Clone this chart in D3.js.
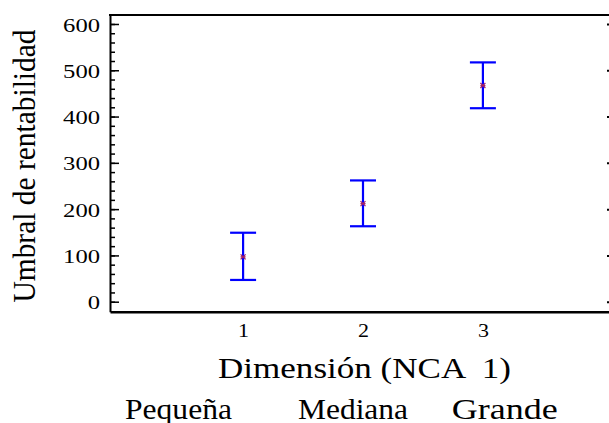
<!DOCTYPE html>
<html>
<head>
<meta charset="utf-8">
<script src="https://cdn.jsdelivr.net/npm/d3@7"></script>
<style>
  body { margin: 0; background: #fff; }
  svg { display: block; }
</style>
</head>
<body>
<div id="chart"></div>
<script>
// Consts {{{
const width = 609;
const height = 423;
const plot = {left: 110, right: 610, top: 15, bottom: 311.7};

// data
const groups = [1, 2, 3];
const means = [97, 212, 467];
const lower = [47, 163, 418];
const upper = [149, 262, 517];
const y_ticks = [0, 100, 200, 300, 400, 500, 600];
const size_labels = ["Pequeña", "Mediana", "Grande"];

const bar_color = "#0000ff";
const mean_color = "#a0206a";
const text_color = "#000";
//}}}

const svg = d3.select("#chart").append("svg")
    .attr("width", width)
    .attr("height", height);

// pick_font() {{{
// finds a Times-like serif that is really installed, by measuring
function pick_font() {
    const probe = svg.append("text").attr("font-size", 40).text("Umbral de rentabilidad 0123");
    probe.attr("font-family", "monospace");
    const base = probe.node().getComputedTextLength();
    const wanted = ["Liberation Serif", "Times New Roman", "Tinos", "Nimbus Roman", "FreeSerif", "Times"];
    let found = null;
    wanted.forEach(f => {
        if (found) return;
        probe.attr("font-family", "'" + f + "', monospace");
        if (Math.abs(probe.node().getComputedTextLength() - base) > 0.5) found = f;
    });
    probe.remove();
    if (found) return {family: "'" + found + "', serif", k: 1};
    // DejaVu Serif has taller capitals than Times
    return {family: "'DejaVu Serif', serif", k: 0.9};
}
//}}}
const font = pick_font();
const fs = s => s * font.k;

const x = d3.scaleLinear()
    .domain([-0.11, 4.06])
    .range([plot.left, plot.right]);

const y = d3.scaleLinear()
    .domain([-21.6, 619.4])
    .range([plot.bottom, plot.top]);

// Axes {{{
// minor ticks on the left, every 20
svg.append("g")
    .attr("transform", "translate(" + plot.left + ",0)")
    .call(d3.axisLeft(y).tickValues(d3.range(0, 601, 20)).tickSize(-5).tickFormat(""))
    .call(g => g.select(".domain").remove())
    .call(g => g.selectAll("line").attr("stroke-width", 1.5));

// major ticks + labels
svg.append("g")
    .attr("transform", "translate(" + plot.left + ",0)")
    .call(d3.axisLeft(y).tickValues(y_ticks).tickSizeInner(-9).tickSizeOuter(0).tickPadding(10))
    .call(g => g.select(".domain").attr("stroke-width", 2))
    .call(g => g.selectAll("line").attr("stroke-width", 1.5))
    .call(g => g.selectAll("text")
        .attr("font-size", fs(19.7))
        .attr("font-family", font.family)
        .attr("fill", text_color)
        .attr("dy", "0.36em")
        .attr("textLength", d => String(d).length * 12.3)
        .attr("lengthAdjust", "spacingAndGlyphs"));

// little marks on the right side
svg.append("g")
    .attr("transform", "translate(" + plot.right + ",0)")
    .call(d3.axisRight(y).tickValues(y_ticks).tickSize(-3).tickFormat(""))
    .call(g => g.select(".domain").remove())
    .call(g => g.selectAll("line").attr("stroke-width", 2));

// bottom axis, no ticks
svg.append("g")
    .attr("transform", "translate(0," + plot.bottom + ")")
    .call(d3.axisBottom(x).tickValues(groups).tickSize(0).tickPadding(11).tickFormat(d3.format("d")))
    .call(g => g.select(".domain").attr("stroke-width", 2.5))
    .call(g => g.selectAll("text")
        .attr("font-size", fs(19.7))
        .attr("font-family", font.family)
        .attr("fill", text_color)
        .attr("textLength", 11)
        .attr("lengthAdjust", "spacingAndGlyphs"));

// top border
svg.append("line")
    .attr("x1", plot.left - 1).attr("x2", plot.right)
    .attr("y1", plot.top).attr("y2", plot.top)
    .attr("stroke", "#000")
    .attr("stroke-width", 2);
//}}}

// Error bars {{{
const cap = 13;
const bars = svg.append("g")
    .selectAll("g")
    .data(groups)
    .enter()
    .append("g")
    .attr("stroke", bar_color)
    .attr("stroke-width", 2.2);

bars.append("line")
    .attr("x1", d => x(d)).attr("x2", d => x(d))
    .attr("y1", (d, i) => y(lower[i]))
    .attr("y2", (d, i) => y(upper[i]));

bars.append("line")
    .attr("x1", d => x(d) - cap).attr("x2", d => x(d) + cap)
    .attr("y1", (d, i) => y(upper[i])).attr("y2", (d, i) => y(upper[i]));

bars.append("line")
    .attr("x1", d => x(d) - cap).attr("x2", d => x(d) + cap)
    .attr("y1", (d, i) => y(lower[i])).attr("y2", (d, i) => y(lower[i]));

// mean markers (small asterisk)
svg.append("g")
    .selectAll("path")
    .data(groups)
    .enter()
    .append("path")
    .attr("d", (d, i) => {
        const cx = x(d), cy = y(means[i]), r = 2.5;
        return "M" + (cx - r) + "," + (cy - r) + "L" + (cx + r) + "," + (cy + r) +
               "M" + (cx - r) + "," + (cy + r) + "L" + (cx + r) + "," + (cy - r) +
               "M" + (cx - r) + "," + cy + "L" + (cx + r) + "," + cy;
    })
    .attr("stroke", mean_color)
    .attr("stroke-width", 1.2)
    .attr("fill", "none");
//}}}

// Labels {{{
svg.append("text")
    .attr("transform", "translate(35,166) rotate(-90)")
    .attr("text-anchor", "middle")
    .attr("font-family", font.family)
    .attr("font-size", fs(32))
    .attr("fill", text_color)
    .attr("textLength", 273)
    .attr("lengthAdjust", "spacingAndGlyphs")
    .text("Umbral de rentabilidad");

svg.append("text")
    .attr("x", 218)
    .attr("y", 378)
    .attr("font-family", font.family)
    .attr("font-size", fs(28.7))
    .attr("fill", text_color)
    .attr("textLength", 293)
    .attr("lengthAdjust", "spacingAndGlyphs")
    .style("white-space", "pre")
    .text("Dimensión (NCA  1)");

const size_x = [125, 298, 451.7];
const size_w = [107, 110, 106];
svg.append("g")
    .selectAll("text")
    .data(size_labels)
    .enter()
    .append("text")
    .attr("x", (d, i) => size_x[i])
    .attr("y", 419)
    .attr("font-family", font.family)
    .attr("font-size", fs(29))
    .attr("fill", text_color)
    .attr("textLength", (d, i) => size_w[i])
    .attr("lengthAdjust", "spacingAndGlyphs")
    .text(d => d);
//}}}
</script>
</body>
</html>
